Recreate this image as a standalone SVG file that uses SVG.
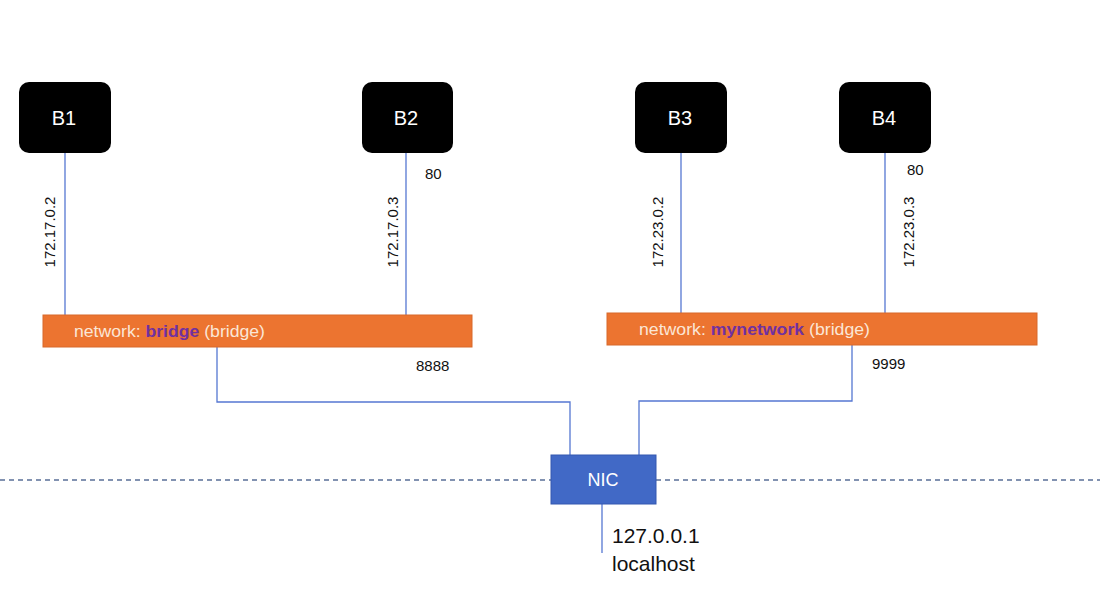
<svg xmlns="http://www.w3.org/2000/svg" width="1100" height="594" viewBox="0 0 1100 594">
<style>
.box{fill:#000;}
.bt{font-family:"Liberation Sans",Arial,sans-serif;font-size:20px;fill:#fff;text-anchor:middle;}
.ln{stroke:#5577d2;stroke-width:1.3;fill:none;}
.ip{font-family:"Liberation Sans",Arial,sans-serif;font-size:15px;fill:#111;text-anchor:middle;}
.port{font-family:"Liberation Sans",Arial,sans-serif;font-size:15px;fill:#111;}
.bar{fill:#ec7430;stroke:#d8692a;stroke-width:1;}
.nt{font-family:"Liberation Sans",Arial,sans-serif;font-size:16px;fill:#fbe6d6;}
.nm{fill:#7030a0;font-weight:bold;}
.dash{stroke:#5a6f98;stroke-width:1.3;stroke-dasharray:5,4;}
.lh{font-family:"Liberation Sans",Arial,sans-serif;font-size:21px;fill:#111;}
</style>
<rect width="1100" height="594" fill="#fff"/>
<g id="connectors">
<line class="ln" x1="65" y1="153" x2="65" y2="315"/>
<line class="ln" x1="406" y1="153" x2="406" y2="315"/>
<line class="ln" x1="681" y1="153" x2="681" y2="313"/>
<line class="ln" x1="885" y1="153" x2="885" y2="313"/>
<polyline class="ln" points="217,347 217,402 570,402 570,455"/>
<polyline class="ln" points="852,345 852,401 639,401 639,455"/>
<line class="ln" x1="602" y1="504" x2="602" y2="553"/>
<line class="dash" x1="0" y1="480" x2="551" y2="480"/>
<line class="dash" x1="656" y1="480" x2="1100" y2="480"/>
<text class="ip" transform="translate(55,232) rotate(-90)">172.17.0.2</text>
<text class="ip" transform="translate(398,232) rotate(-90)">172.17.0.3</text>
<text class="port" x="425" y="179">80</text>
<text class="ip" transform="translate(663,232) rotate(-90)">172.23.0.2</text>
<text class="ip" transform="translate(914,232) rotate(-90)">172.23.0.3</text>
<text class="port" x="907" y="175">80</text>
<text class="port" x="416" y="371">8888</text>
<text class="port" x="872" y="369">9999</text>
</g>
<g id="B1"><rect class="box" x="19" y="82" width="92" height="71" rx="10"/><text class="bt" x="64" y="125">B1</text></g>
<g id="B2"><rect class="box" x="362" y="82" width="91" height="71" rx="10"/><text class="bt" x="406" y="125">B2</text></g>
<g id="B3"><rect class="box" x="635" y="82" width="92" height="71" rx="10"/><text class="bt" x="680" y="125">B3</text></g>
<g id="B4"><rect class="box" x="839" y="82" width="92" height="71" rx="10"/><text class="bt" x="884" y="125">B4</text></g>
<g id="bridge"><rect class="bar" x="43" y="315" width="429" height="32"/><text class="nt" x="74" y="337" textLength="191" lengthAdjust="spacingAndGlyphs">network: <tspan class="nm">bridge</tspan> (bridge)</text></g>
<g id="mynetwork"><rect class="bar" x="607" y="313" width="430" height="32"/><text class="nt" x="639" y="335" textLength="231" lengthAdjust="spacingAndGlyphs">network: <tspan class="nm">mynetwork</tspan> (bridge)</text></g>
<g id="NIC"><rect x="551" y="455" width="105" height="49" fill="#4169c6" stroke="#3558b0" stroke-width="1"/><text x="603" y="486" font-family="Liberation Sans,Arial,sans-serif" font-size="18" fill="#fff" text-anchor="middle">NIC</text></g>
<g id="localhost"><text class="lh" x="612" y="543">127.0.0.1</text><text class="lh" x="612" y="571">localhost</text></g>
</svg>
